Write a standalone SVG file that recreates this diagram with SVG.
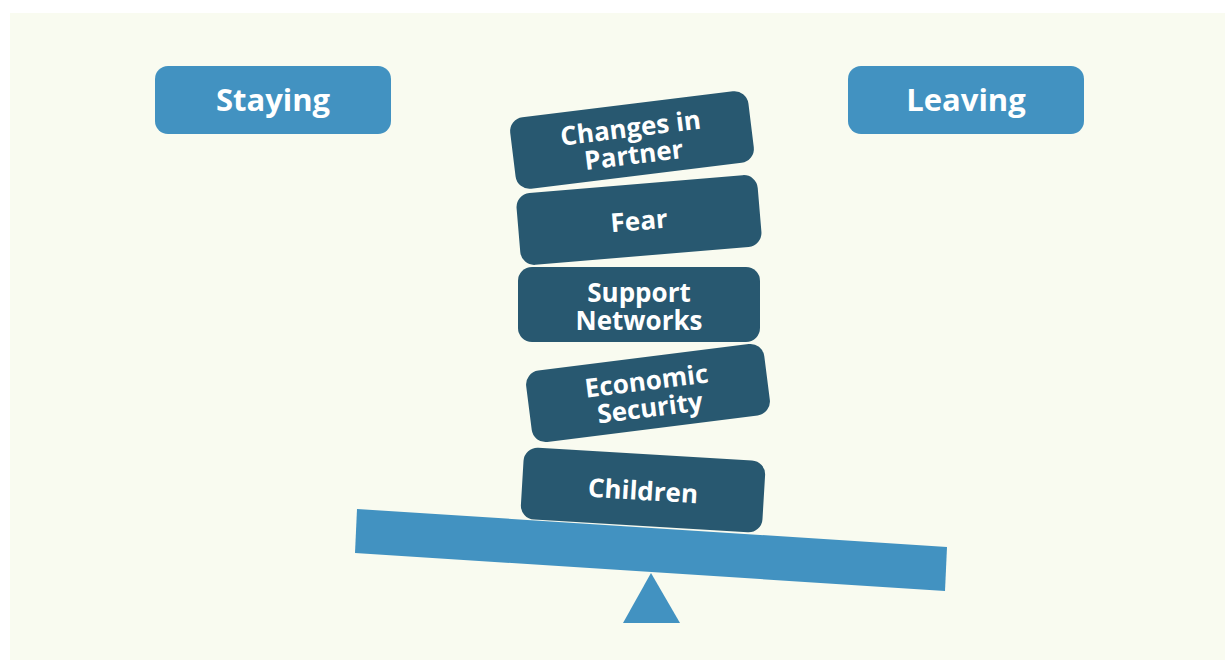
<svg xmlns="http://www.w3.org/2000/svg" width="1225" height="661" viewBox="0 0 1225 661">
<style>
.lbl{fill:#4292C1}
.blk{fill:#285870}
text{font-family:"Open Sans","Liberation Sans",sans-serif;font-weight:bold;fill:#ffffff;text-anchor:middle}
.big{font-size:31px}
.t{font-size:26px}
</style>
<rect x="0" y="0" width="1225" height="661" fill="#ffffff"/>
<rect x="10" y="13" width="1215" height="647" fill="#F9FBF0"/>
<g id="staying">
<rect class="lbl" x="155" y="66" width="236" height="68" rx="13"/>
<text class="big" x="273" y="111">Staying</text>
</g>
<g id="leaving">
<rect class="lbl" x="848" y="66" width="236" height="68" rx="13"/>
<text class="big" x="966" y="111">Leaving</text>
</g>
<g id="changes" transform="translate(632,140) rotate(-7)">
<rect class="blk" x="-120" y="-36" width="240" height="72" rx="14"/>
<text class="t" x="0" y="-3">Changes in</text>
<text class="t" x="0" y="24">Partner</text>
</g>
<g id="fear" transform="translate(639,220) rotate(-4.8)">
<rect class="blk" x="-121" y="-36" width="242" height="72" rx="14"/>
<text class="t" x="0" y="10">Fear</text>
</g>
<g id="support" transform="translate(639,304.5)">
<rect class="blk" x="-121" y="-37.5" width="242" height="75" rx="14"/>
<text class="t" x="0" y="-3">Support</text>
<text class="t" x="0" y="25">Networks</text>
</g>
<g id="economic" transform="translate(648,393) rotate(-7.2)">
<rect class="blk" x="-120" y="-36" width="240" height="72" rx="14"/>
<text class="t" x="0" y="-3">Economic</text>
<text class="t" x="0" y="24">Security</text>
</g>
<g id="children" transform="translate(643,490) rotate(3.4)">
<rect class="blk" x="-121" y="-36" width="242" height="72" rx="14"/>
<text class="t" x="0" y="10">Children</text>
</g>
<g id="seesaw">
<polygon class="lbl" points="357,509 947,547 945,591 355,553"/>
<polygon class="lbl" points="651,573 680,623 623,623"/>
</g>
</svg>
